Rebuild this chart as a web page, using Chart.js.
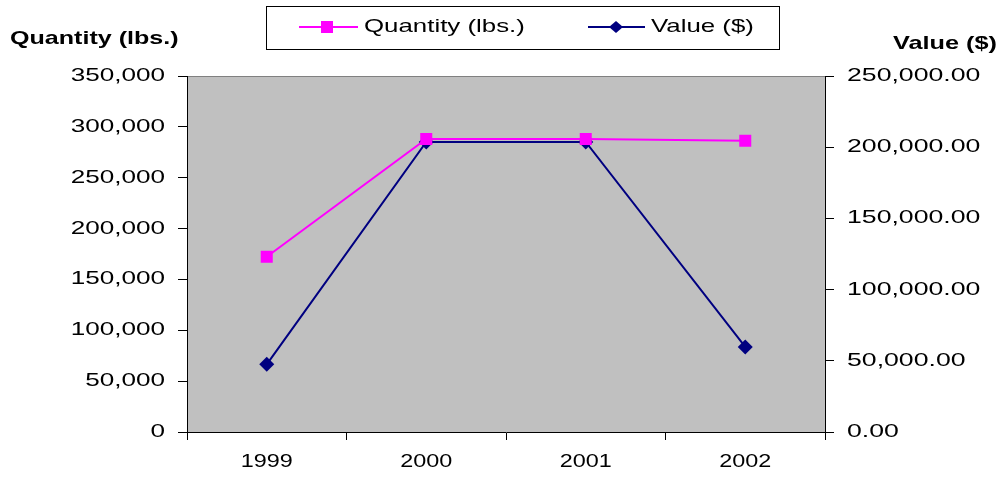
<!DOCTYPE html>
<html><head><meta charset="utf-8">
<script src="https://cdn.jsdelivr.net/npm/chart.js@4"></script>
<style>html,body{margin:0;padding:0;background:#fff}#wrap{width:1005px;height:477px}</style>
</head><body><div id="wrap"><canvas id="c" width="1005" height="477"></canvas></div>
<script>
const categories = ['1999', '2000', '2001', '2002'];
const quantityLbs = [172300, 288000, 288000, 286400];
const valueUsd = [47500, 203700, 203700, 59700];
const leftTitle = 'Quantity (lbs.)';
const rightTitle = 'Value ($)';
const seriesNames = ['Quantity (lbs.)', 'Value ($)'];

const FONT = 'Liberation Sans, Arial, sans-serif';
const fmtLeft = v => v.toLocaleString('en-US');
const fmtRight = v => v.toLocaleString('en-US', {minimumFractionDigits: 2, maximumFractionDigits: 2});

function wideText(ctx, text, x, y, align, sx, font) {
  ctx.save();
  ctx.translate(x, y);
  ctx.scale(sx, 1);
  ctx.font = font;
  ctx.fillStyle = '#000';
  ctx.textAlign = align;
  ctx.textBaseline = 'middle';
  ctx.fillText(text, 0, 0);
  ctx.restore();
}

const framePlugin = {
  id: 'frame',
  beforeDraw(chart) {
    const {ctx, chartArea: a} = chart;
    ctx.save();
    ctx.fillStyle = '#C0C0C0';
    ctx.fillRect(a.left, a.top, a.right - a.left, a.bottom - a.top);
    ctx.strokeStyle = '#808080';
    ctx.lineWidth = 1;
    ctx.beginPath(); ctx.moveTo(a.left, a.top + 0.5); ctx.lineTo(a.right, a.top + 0.5); ctx.stroke();
    ctx.restore();
  },
  afterDraw(chart) {
    const {ctx} = chart;
    const sL = chart.scales.yL, sR = chart.scales.yR, sX = chart.scales.x;
    ctx.save();
    const tickFont = '18px ' + FONT;
    sL.ticks.forEach(t => wideText(ctx, fmtLeft(t.value), 165, sL.getPixelForValue(t.value), 'right', 1.45, tickFont));
    sR.ticks.forEach(t => wideText(ctx, fmtRight(t.value), 847, sR.getPixelForValue(t.value), 'left', 1.48, tickFont));
    categories.forEach((c, i) => wideText(ctx, c, sX.getPixelForValue(i), 462, 'center', 1.3, tickFont));
    // axis titles
    const titleFont = 'bold 19px ' + FONT;
    wideText(ctx, leftTitle, 10, 39, 'left', 1.32, titleFont);
    wideText(ctx, rightTitle, 893, 44, 'left', 1.33, titleFont);
    // legend
    ctx.fillStyle = '#fff';
    ctx.fillRect(266.5, 6.5, 513, 43);
    ctx.strokeStyle = '#000';
    ctx.lineWidth = 1;
    ctx.strokeRect(266.5, 6.5, 513, 43);
    const items = [
      {x0: 299, x1: 358, mx: 327, text: 364, ds: chart.data.datasets[0], shape: 'rect'},
      {x0: 588, x1: 645, mx: 616, text: 651, ds: chart.data.datasets[1], shape: 'diamond'}
    ];
    const y = 27;
    items.forEach(it => {
      ctx.strokeStyle = it.ds.borderColor;
      ctx.lineWidth = 2;
      ctx.beginPath(); ctx.moveTo(it.x0, y); ctx.lineTo(it.x1, y); ctx.stroke();
      ctx.fillStyle = it.ds.backgroundColor;
      if (it.shape === 'rect') {
        ctx.fillRect(it.mx - 6, y - 6, 12, 12);
      } else {
        ctx.beginPath();
        ctx.moveTo(it.mx, y - 6); ctx.lineTo(it.mx + 7, y); ctx.lineTo(it.mx, y + 6); ctx.lineTo(it.mx - 7, y);
        ctx.closePath(); ctx.fill();
      }
      wideText(ctx, it.ds.label, it.text, y, 'left', 1.36, '19px ' + FONT);
    });
    ctx.restore();
  }
};

new Chart(document.getElementById('c'), {
  type: 'line',
  data: {
    labels: categories,
    datasets: [
      {label: seriesNames[0], data: quantityLbs, yAxisID: 'yL', borderColor: '#FF00FF', backgroundColor: '#FF00FF',
       borderWidth: 2, pointStyle: 'rect', pointRadius: 8.5, pointBorderWidth: 0, tension: 0},
      {label: seriesNames[1], data: valueUsd, yAxisID: 'yR', borderColor: '#000080', backgroundColor: '#000080',
       borderWidth: 2, pointStyle: 'rectRot', pointRadius: 7.5, pointBorderWidth: 0, tension: 0}
    ]
  },
  options: {
    responsive: false,
    animation: false,
    devicePixelRatio: 1,
    layout: {padding: {top: 76, left: 0, right: 0, bottom: 0}},
    plugins: {legend: {display: false}, tooltip: {enabled: false}},
    scales: {
      x: {
        offset: true,
        grid: {offset: true, drawOnChartArea: false, tickLength: 8, color: '#000', tickColor: '#000'},
        border: {color: '#000', width: 1},
        ticks: {display: false},
        afterFit(s) { s.height = 45; }
      },
      yL: {
        position: 'left', min: 0, max: 350000,
        grid: {drawOnChartArea: false, tickLength: 9, tickColor: '#000'},
        border: {color: '#000', width: 1},
        ticks: {display: false, stepSize: 50000, callback: fmtLeft},
        afterFit(s) { s.width = 187; }
      },
      yR: {
        position: 'right', min: 0, max: 250000,
        grid: {drawOnChartArea: false, tickLength: 9, tickColor: '#000'},
        border: {color: '#000', width: 1},
        ticks: {display: false, stepSize: 50000, callback: fmtRight},
        afterFit(s) { s.width = 180; }
      }
    }
  },
  plugins: [framePlugin]
});
</script></body></html>
